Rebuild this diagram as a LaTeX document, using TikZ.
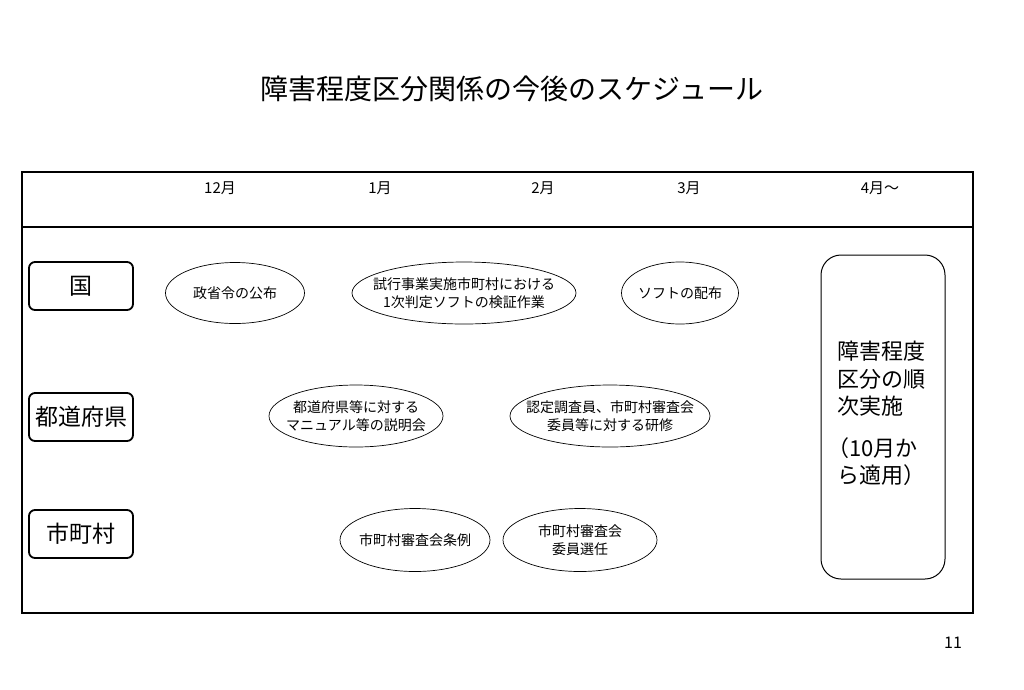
\documentclass[tikz,border=0pt]{standalone}
\usepackage{fontspec}
\setmainfont{Noto Sans CJK JP}
\usetikzlibrary{shapes.geometric}
\begin{document}
\begin{tikzpicture}[x=1pt,y=-1pt,
  month/.style={font=\fontsize{15}{17}\selectfont, inner sep=0},
  rowbox/.style={draw, line width=1.8pt, rounded corners=6pt, minimum width=104pt, minimum height=48pt, inner sep=0, font=\fontsize{23}{26}\selectfont},
  ev/.style={draw, ellipse, line width=0.7pt, inner sep=0},
  evtext/.style={inner sep=0, align=center, font=\fontsize{14}{18.5}\selectfont}
]
\useasboundingbox (0,0) rectangle (1024,689);
\node[inner sep=0, font=\fontsize{28}{32}\selectfont] (title) at (512,89) {障害程度区分関係の今後のスケジュール};
% frame
\draw[line width=2.6pt] (22,172) rectangle (973,613);
\coordinate (hl) at (22,227);
\coordinate (hr) at (973,227);
\draw[line width=1.2pt] (hl) -- (hr);
% months
\node[month] (m12) at (220,188) {12月};
\node[month] (m1) at (380,188) {1月};
\node[month] (m2) at (543,188) {2月};
\node[month] (m3) at (689,188) {3月};
\node[month] (m4) at (880,188) {4月～};
% rows
\node[rowbox] (kuni) at (81,286) {国};
\node[rowbox] (pref) at (81,417) {都道府県};
\node[rowbox] (city) at (81,534) {市町村};
% events
\node[ev, minimum width=139pt, minimum height=61pt] (e1) at (235,293) {};
\node[evtext] (e1t) at (e1.center) {政省令の公布};
\node[ev, minimum width=224pt, minimum height=62pt] (e2) at (464,293) {};
\node[evtext] (e2t) at (e2.center) {試行事業実施市町村における\\1次判定ソフトの検証作業};
\node[ev, minimum width=117pt, minimum height=62pt] (e3) at (680,293) {};
\node[evtext] (e3t) at (e3.center) {ソフトの配布};
\node[ev, minimum width=174pt, minimum height=62pt] (e4) at (356,416) {};
\node[evtext] (e4t) at (e4.center) {都道府県等に対する\\マニュアル等の説明会};
\node[ev, minimum width=200pt, minimum height=62pt] (e5) at (610,416) {};
\node[evtext] (e5t) at (e5.center) {認定調査員、市町村審査会\\委員等に対する研修};
\node[ev, minimum width=150pt, minimum height=63pt] (e6) at (415,540) {};
\node[evtext] (e6t) at (e6.center) {市町村審査会条例};
\node[ev, minimum width=154pt, minimum height=63pt] (e7) at (580,540) {};
\node[evtext] (e7t) at (e7.center) {市町村審査会\\委員選任};
% right box
\draw[line width=1pt, rounded corners=20pt] (821,255) rectangle (945,579);
\node[anchor=north west, inner sep=0, align=left, font=\fontsize{22}{27.5}\selectfont] (impl) at (837,341) {障害程度\\区分の順\\次実施\\[14pt]\hspace*{-0.45em}（10月か\\ら適用）};
\node[inner sep=0, font=\fontsize{16}{18}\selectfont] (pg) at (953,643) {11};
\end{tikzpicture}
\end{document}
